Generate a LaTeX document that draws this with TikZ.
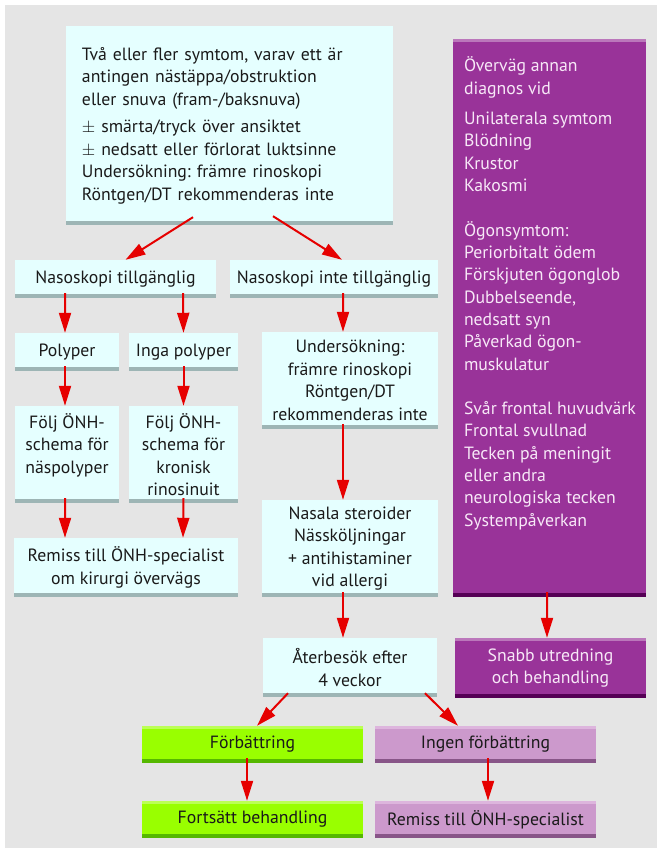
\documentclass[tikz,border=0pt]{standalone}
\usepackage{fontspec}
\setmainfont{PT Sans}
\usetikzlibrary{arrows.meta}
\usetikzlibrary{positioning}
\frenchspacing

\definecolor{bggray}{HTML}{E5E5E5}
\definecolor{boxcyan}{HTML}{E5FFFF}
\definecolor{cyanshade}{HTML}{9DB5B5}
\definecolor{boxgreen}{HTML}{99FF00}
\definecolor{greenlight}{HTML}{BBFF55}
\definecolor{greendark}{HTML}{55B800}
\definecolor{boxpink}{HTML}{CC99CC}
\definecolor{pinklight}{HTML}{DDB5DD}
\definecolor{pinkdark}{HTML}{885588}
\definecolor{boxpurple}{HTML}{993399}
\definecolor{purplelight}{HTML}{BB77BB}
\definecolor{purpledark}{HTML}{550055}
\definecolor{arrowred}{HTML}{E60000}
\definecolor{textdark}{HTML}{1A1A1A}
\definecolor{textlight}{HTML}{F7E8F7}

\begin{document}
\begin{tikzpicture}[x=1bp,y=-1bp]
\tikzstyle{box}=[inner sep=0pt,align=center,text=textdark,
font=\fontsize{17.8}{22.6}\selectfont\frenchspacing]
\tikzstyle{cyanbox}=[box,fill=boxcyan,
path picture={\fill[cyanshade] (path picture bounding box.south west)
rectangle ([yshift=4bp]path picture bounding box.south east);}]
\tikzstyle{greenbox}=[box,fill=boxgreen,
path picture={\fill[greenlight] (path picture bounding box.north west)
rectangle ([yshift=-3bp]path picture bounding box.north east);
\fill[greendark] (path picture bounding box.south west)
rectangle ([yshift=4bp]path picture bounding box.south east);}]
\tikzstyle{pinkbox}=[box,fill=boxpink,
path picture={\fill[pinklight] (path picture bounding box.north west)
rectangle ([yshift=-3bp]path picture bounding box.north east);
\fill[pinkdark] (path picture bounding box.south west)
rectangle ([yshift=4bp]path picture bounding box.south east);}]
\tikzstyle{purplebox}=[box,fill=boxpurple,text=textlight,
path picture={\fill[purplelight] (path picture bounding box.north west)
rectangle ([yshift=-3bp]path picture bounding box.north east);
\fill[purpledark] (path picture bounding box.south west)
rectangle ([yshift=4bp]path picture bounding box.south east);}]
\tikzstyle{flow}=[draw=arrowred,line width=2bp,
-{Triangle[length=20bp,width=12bp]},arrowred]

\useasboundingbox (0,0) rectangle (657,848);
\fill[bggray] (5,5) rectangle (657,848);

% left column
\node[cyanbox,minimum width=327bp,minimum height=199bp,text width=295bp,
align=left] (symtom) at (229.5,125.5) {Två eller fler symtom, varav ett är\\
antingen nästäppa/obstruktion\\eller snuva (fram-/baksnuva)\\[5bp]
$\pm$ smärta/tryck över ansiktet\\$\pm$ nedsatt eller förlorat luktsinne\\
Undersökning: främre rinoskopi\\Röntgen/DT rekommenderas inte};
\node[cyanbox,minimum width=201bp,minimum height=38bp] (nastillg) at (115.5,279)
{Nasoskopi tillgänglig};
\node[cyanbox,minimum width=208bp,minimum height=38bp] (nasinte) at (334,279)
{Nasoskopi inte tillgänglig};
\node[cyanbox,minimum width=104bp,minimum height=38bp] (polyper) at (67,352)
{Polyper};
\node[cyanbox,minimum width=109bp,minimum height=38bp] (ingapoly) at (183.5,352)
{Inga polyper};
\node[cyanbox,minimum width=104bp,minimum height=97bp] (foljnas) at (67,454.5)
{Följ ÖNH-\\schema för\\näspolyper\\~};
\node[cyanbox,minimum width=109bp,minimum height=97bp] (foljkron) at (183.5,454.5)
{Följ ÖNH-\\schema för\\kronisk\\rinosinuit};
\node[cyanbox,minimum width=224bp,minimum height=59bp] (remisskir) at (126,567.5)
{Remiss till ÖNH-specialist\\om kirurgi övervägs};

% middle column
\node[cyanbox,minimum width=176bp,minimum height=97bp] (unders) at (350,380.5)
{Undersökning:\\främre rinoskopi\\Röntgen/DT\\rekommenderas inte};
\node[cyanbox,minimum width=176bp,minimum height=97bp] (nasala) at (350,548.5)
{Nasala steroider\\Nässköljningar\\+ antihistaminer\\vid allergi};
\node[cyanbox,minimum width=174bp,minimum height=59bp] (ater) at (350,667.5)
{Återbesök efter\\4 veckor};

% right column
\node[purplebox,minimum width=193bp,minimum height=558bp] (annan) at (549.5,318) {};
\node[box,text=textlight,align=left,anchor=north west,
font=\fontsize{17.8}{22.4}\selectfont\frenchspacing] (annantext)
at ([xshift=11bp,yshift=-18bp]annan.north west)
{Överväg annan\\diagnos vid\\[8bp]
Unilaterala symtom\\Blödning\\Krustor\\Kakosmi\\~\\
Ögonsymtom:\\Periorbitalt ödem\\Förskjuten ögonglob\\Dubbelseende,\\
nedsatt syn\\Påverkad ögon-\\muskulatur\\~\\
Svår frontal huvudvärk\\Frontal svullnad\\Tecken på meningit\\eller andra\\
neurologiska tecken\\Systempåverkan};
\node[purplebox,minimum width=191bp,minimum height=60bp] (snabb) at (550.5,668)
{Snabb utredning\\och behandling};

% bottom row
\node[greenbox,minimum width=221bp,minimum height=37bp] (forb) at (252.5,744.5)
{Förbättring};
\node[pinkbox,minimum width=221bp,minimum height=37bp] (ingenforb) at (485.5,744.5)
{Ingen förbättring};
\node[greenbox,minimum width=221bp,minimum height=37bp] (fortsatt) at (252.5,819.5)
{Fortsätt behandling};
\node[pinkbox,minimum width=221bp,minimum height=37bp] (remissonh) at (485.5,819.5)
{Remiss till ÖNH-specialist};

% arrows
\draw[flow] ([xshift=-36.5bp,yshift=8bp]symtom.south) -- ([xshift=10bp]nastillg.north);
\draw[flow] ([xshift=43.5bp,yshift=9bp]symtom.south) -- ([xshift=8bp]nasinte.north);
\draw[flow] ([xshift=-50.5bp,yshift=5bp]nastillg.south) -- ([xshift=-2bp]polyper.north);
\draw[flow] ([xshift=67.5bp,yshift=5bp]nastillg.south) -- (ingapoly.north);
\draw[flow] ([xshift=-2bp,yshift=5bp]polyper.south) -- ([xshift=-2bp]foljnas.north);
\draw[flow] ([yshift=5bp]ingapoly.south) -- (foljkron.north);
\draw[flow] ([xshift=-2bp,yshift=5bp]foljnas.south) -- ([xshift=-61bp]remisskir.north);
\draw[flow] ([yshift=5bp]foljkron.south) -- ([xshift=57bp]remisskir.north);
\draw[flow] ([xshift=9bp,yshift=5bp]nasinte.south) -- ([xshift=-7bp]unders.north);
\draw[flow] ([xshift=-7bp,yshift=5bp]unders.south) -- ([xshift=-7bp]nasala.north);
\draw[flow] ([xshift=-7bp,yshift=5bp]nasala.south) -- ([xshift=-7bp]ater.north);
\draw[flow] ([xshift=-62bp,yshift=4bp]ater.south) -- ([xshift=4.5bp]forb.north);
\draw[flow] ([xshift=75bp,yshift=4bp]ater.south) -- ([xshift=-27.5bp]ingenforb.north);
\draw[flow] ([xshift=-5.5bp,yshift=5bp]forb.south) -- ([xshift=-5.5bp]fortsatt.north);
\draw[flow] ([xshift=2.5bp,yshift=5bp]ingenforb.south) -- ([xshift=2.5bp]remissonh.north);
\draw[flow] ([xshift=-2.5bp,yshift=5bp]annan.south) -- ([xshift=-3.5bp]snabb.north);
\end{tikzpicture}
\end{document}
